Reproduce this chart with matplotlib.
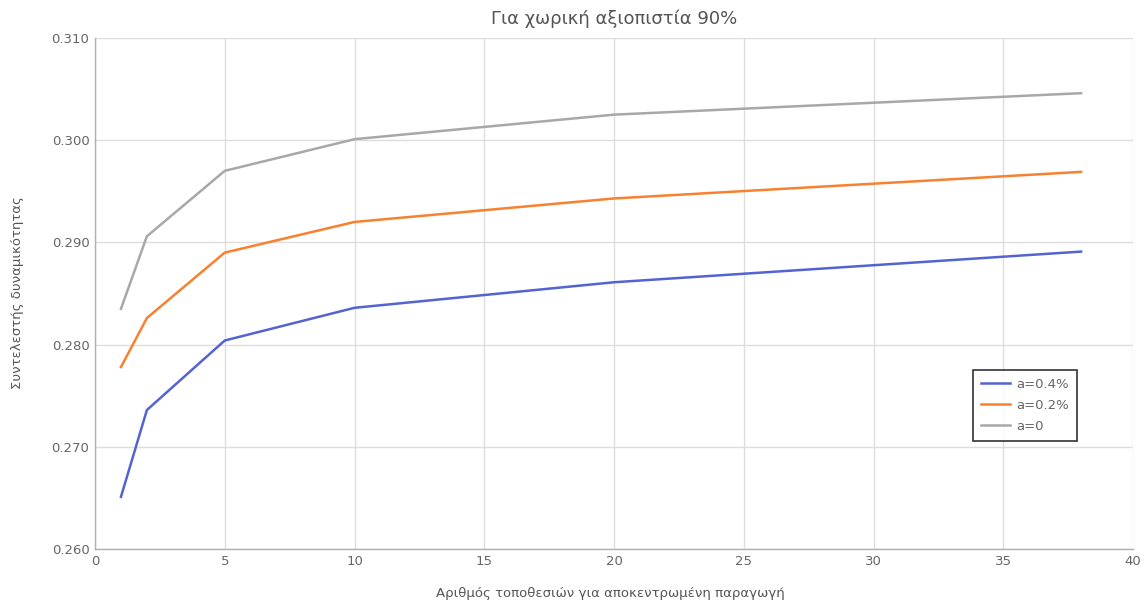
import matplotlib
matplotlib.use("Agg")
import matplotlib.pyplot as plt

sites = [1, 2, 5, 10, 20, 38]
series_labels = ["a=0.4%", "a=0.2%", "a=0"]
a_04 = [0.2651, 0.2736, 0.2804, 0.2836, 0.2861, 0.2891]
a_02 = [0.2778, 0.2826, 0.2890, 0.2920, 0.2943, 0.2969]
a_00 = [0.2835, 0.2906, 0.2970, 0.3001, 0.3025, 0.3046]
colors = ["#5463d2", "#f7812f", "#a8a8a8"]

x_ticks = [0, 5, 10, 15, 20, 25, 30, 35, 40]
y_ticks = [0.260, 0.270, 0.280, 0.290, 0.300, 0.310]

plt.rcParams["font.family"] = ["DejaVu Sans"]

fig = plt.figure(figsize=(11.44, 6.04), dpi=100)
ax = fig.add_axes([95 / 1144, 1 - 549 / 604, (1133 - 95) / 1144, (549 - 38) / 604])

for vals, lab, col in zip([a_04, a_02, a_00], series_labels, colors):
    ax.plot(sites, vals, color=col, lw=1.8, label=lab, solid_joinstyle="round")

ax.set_xlim(0, 40)
ax.set_ylim(0.260, 0.310)
ax.set_xticks(x_ticks)
ax.set_yticks(y_ticks)
ax.set_yticklabels([f"{v:.3f}" for v in y_ticks])
ax.grid(True, color="#dddddd", lw=1)
ax.set_axisbelow(True)
for s in ["top", "right"]:
    ax.spines[s].set_visible(False)
for s in ["left", "bottom"]:
    ax.spines[s].set_color("#b0b0b0")
    ax.spines[s].set_linewidth(1)
ax.tick_params(length=0, labelsize=9.5, colors="#666666", pad=4)

ax.set_title("Για χωρική αξιοπιστία 90%", fontsize=13, color="#555555", pad=10)
ax.set_xlabel("Αριθμός τοποθεσιών για αποκεντρωμένη παραγωγή", fontsize=9.5,
              color="#555555", va="center")
ax.xaxis.set_label_coords((610 - 95) / 1038, (549 - 594) / 511)
ax.set_ylabel("Συντελεστής δυναμικότητας", fontsize=9.5, color="#555555", va="center")
ax.yaxis.set_label_coords((18 - 95) / 1038, (549 - 293) / 511)

leg = ax.legend(loc="upper left", bbox_to_anchor=((973 - 95) / 1038, (549 - 370) / 511),
                frameon=True, fancybox=False, fontsize=9.5, handlelength=2.2,
                handletextpad=0.5, borderpad=0.6, labelspacing=0.6, borderaxespad=0)
leg.get_frame().set_edgecolor("black")
leg.get_frame().set_linewidth(1.2)
for t in leg.get_texts():
    t.set_color("#666666")

fig.savefig("out.png", dpi=100)
